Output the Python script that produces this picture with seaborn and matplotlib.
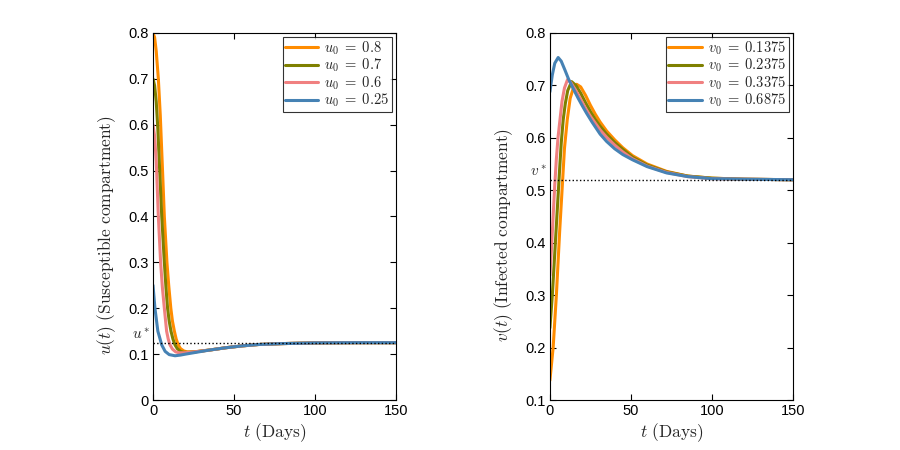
import matplotlib
matplotlib.use('Agg')
import matplotlib.pyplot as plt
import matplotlib.transforms as mtransforms
import seaborn as sns

# susceptible compartment u(t)
u_labels = [r'$u_0\;=\;0.8$', r'$u_0\;=\;0.7$', r'$u_0\;=\;0.6$', r'$u_0\;=\;0.25$']

t_u08 = [0, 1, 2, 3.3, 4.5, 5.3, 6, 7, 8.6, 9.7, 11, 12, 13.2, 14.3, 15.6, 17, 19, 21, 24, 28, 35, 45, 55, 65, 80, 100, 125, 150]
u_08 = [0.8, 0.79, 0.76, 0.70, 0.62, 0.55, 0.49, 0.40, 0.30, 0.25, 0.20, 0.172, 0.15, 0.133, 0.12, 0.112, 0.107, 0.105, 0.105, 0.106, 0.109, 0.114, 0.118, 0.121, 0.123, 0.1245, 0.125, 0.125]

t_u07 = [0, 1, 2, 3, 4, 5.4, 7, 8, 9, 10, 11.1, 12.3, 13.6, 15, 17, 19, 22, 26, 30, 35, 45, 55, 65, 80, 100, 125, 150]
u_07 = [0.7, 0.685, 0.65, 0.59, 0.51, 0.40, 0.30, 0.245, 0.20, 0.172, 0.15, 0.133, 0.12, 0.112, 0.106, 0.104, 0.104, 0.105, 0.107, 0.109, 0.114, 0.118, 0.121, 0.123, 0.1245, 0.125, 0.125]

t_u06 = [0, 1, 2, 3.3, 4.7, 5.8, 7, 8.4, 9.4, 10.5, 12, 14, 16, 19, 23, 28, 35, 45, 55, 65, 80, 100, 125, 150]
u_06 = [0.6, 0.575, 0.52, 0.40, 0.30, 0.245, 0.20, 0.15, 0.133, 0.12, 0.111, 0.105, 0.103, 0.103, 0.104, 0.106, 0.109, 0.114, 0.118, 0.121, 0.123, 0.1245, 0.125, 0.125]

t_u025 = [0, 1.2, 3, 5.4, 7.5, 10, 13.6, 17, 20, 25, 30, 35, 45, 55, 65, 80, 100, 125, 150]
u_025 = [0.25, 0.20, 0.15, 0.12, 0.106, 0.099, 0.0965, 0.098, 0.100, 0.103, 0.106, 0.109, 0.114, 0.118, 0.121, 0.123, 0.1245, 0.125, 0.125]

u_star = 0.125

# infected compartment v(t)
v_labels = [r'$v_0\;=\;0.1375$', r'$v_0\;=\;0.2375$', r'$v_0\;=\;0.3375$', r'$v_0\;=\;0.6875$']

t_v1 = [0, 2, 4, 6, 7.5, 9, 10.7, 12.5, 14.5, 16.5, 19, 22, 25, 28, 31, 35, 40, 45, 51, 60, 72, 85, 100, 120, 150]
v_1 = [0.1375, 0.2, 0.3, 0.42, 0.5, 0.58, 0.634, 0.675, 0.695, 0.702, 0.697, 0.681, 0.662, 0.645, 0.630, 0.613, 0.596, 0.581, 0.566, 0.550, 0.536, 0.527, 0.523, 0.521, 0.52]

t_v2 = [0, 1.5, 3, 4.5, 6, 7, 8.2, 9.5, 11, 13.4, 16, 19, 22, 25, 28, 31, 35, 40, 45, 51, 60, 72, 85, 100, 120, 150]
v_2 = [0.2375, 0.3, 0.38, 0.46, 0.54, 0.59, 0.634, 0.665, 0.69, 0.707, 0.700, 0.685, 0.667, 0.650, 0.635, 0.622, 0.607, 0.591, 0.578, 0.563, 0.548, 0.535, 0.527, 0.523, 0.521, 0.52]

t_v3 = [0, 1, 2, 3, 4, 5, 6.2, 7.5, 9, 10.9, 13, 16, 19, 22, 25, 28, 31, 35, 40, 45, 51, 60, 72, 85, 100, 120, 150]
v_3 = [0.3375, 0.39, 0.45, 0.51, 0.56, 0.60, 0.634, 0.67, 0.695, 0.711, 0.705, 0.69, 0.673, 0.656, 0.641, 0.628, 0.615, 0.601, 0.586, 0.573, 0.560, 0.546, 0.534, 0.526, 0.522, 0.521, 0.52]

t_v4 = [0, 1.5, 3, 5.1, 7, 9.3, 11.5, 13.4, 15.5, 17.5, 20, 22.6, 26, 31, 35, 40, 45, 51, 60, 72, 85, 100, 120, 150]
v_4 = [0.6875, 0.72, 0.742, 0.753, 0.746, 0.729, 0.712, 0.70, 0.687, 0.675, 0.661, 0.647, 0.630, 0.607, 0.593, 0.579, 0.568, 0.558, 0.545, 0.533, 0.526, 0.522, 0.521, 0.52]

v_star = 0.52

colors = ['#ff8c00', '#7f8000', '#f08080', '#4682b4']

sns.set_style('ticks')
plt.rcParams['font.family'] = ['Liberation Sans', 'DejaVu Sans']
plt.rcParams['mathtext.fontset'] = 'cm'
plt.rcParams['xtick.direction'] = 'in'
plt.rcParams['ytick.direction'] = 'in'
plt.rcParams['xtick.top'] = True
plt.rcParams['ytick.right'] = True

fig = plt.figure(figsize=(9, 4.5), dpi=100)
ax1 = fig.add_axes([0.17, 0.111, 0.27, 0.816])
ax2 = fig.add_axes([0.611, 0.111, 0.27, 0.816])


def draw_panel(ax, curves, labels, star, star_label, ylim, yticks, ylabel):
    for (t, y), c, lab in zip(curves, colors, labels):
        sns.lineplot(x=t, y=y, ax=ax, color=c, lw=2.2, label=lab, sort=False, estimator=None)
    ax.axhline(star, color='k', ls=':', lw=1)
    trans = mtransforms.blended_transform_factory(ax.transAxes, ax.transData)
    ax.text(-0.012, star + 0.002, star_label, transform=trans, ha='right', va='bottom', fontsize=11)
    ax.set_xlim(0, 150)
    ax.set_ylim(*ylim)
    ax.set_xticks([0, 50, 100, 150])
    ax.set_yticks(yticks)
    ax.set_yticklabels([f'{v:g}' for v in yticks])
    ax.tick_params(labelsize=10.5, length=4, width=0.8, color='k', labelcolor='k', pad=3)
    for sp in ax.spines.values():
        sp.set_linewidth(0.8)
        sp.set_color('k')
    ax.set_xlabel(r'$t\ \mathrm{(Days)}$', fontsize=12.5, labelpad=2)
    ax.set_ylabel(ylabel, fontsize=12.5)
    ax.yaxis.set_label_coords(-0.145, 0.45)
    leg = ax.legend(loc='upper right', fontsize=10.5, frameon=True, fancybox=False,
                    edgecolor='k', borderpad=0.15, labelspacing=0.0, handlelength=2.3,
                    handletextpad=0.4, borderaxespad=0.3)
    leg.get_frame().set_linewidth(0.8)


draw_panel(ax1, [(t_u08, u_08), (t_u07, u_07), (t_u06, u_06), (t_u025, u_025)], u_labels,
           u_star, '$u^*$', (0, 0.8), [0, 0.1, 0.2, 0.3, 0.4, 0.5, 0.6, 0.7, 0.8],
           r'$u(t)\ \mathrm{(Susceptible\ compartment)}$')
draw_panel(ax2, [(t_v1, v_1), (t_v2, v_2), (t_v3, v_3), (t_v4, v_4)], v_labels,
           v_star, '$v^*$', (0.1, 0.8), [0.1, 0.2, 0.3, 0.4, 0.5, 0.6, 0.7, 0.8],
           r'$v(t)\ \mathrm{(Infected\ compartment)}$')

fig.savefig('out.png', dpi=100)
